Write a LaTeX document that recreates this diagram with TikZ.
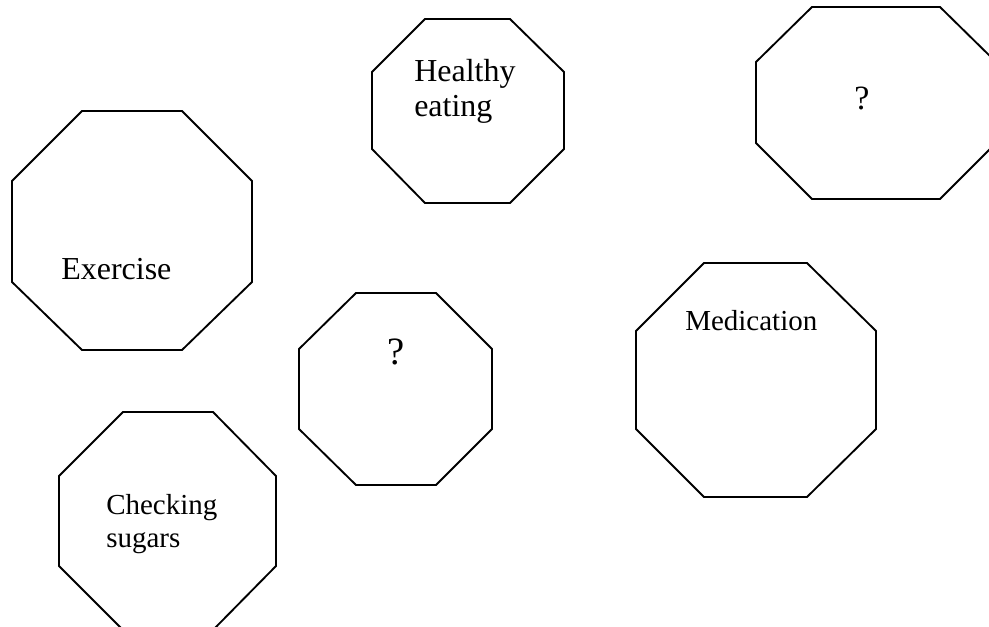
\documentclass[tikz,border=0pt]{standalone}
\usepackage{fontspec}
\setmainfont{Liberation Serif}
\usepackage{tikz}

\begin{document}
\begin{tikzpicture}[x=0.75pt, y=-0.75pt,
        octa/.style={line width=1.4pt, line join=miter},
        lbl/.style={anchor=base west, inner sep=0pt, align=left},
        qmark/.style={anchor=base, inner sep=0pt}]
                        \clip (0, 0) rectangle (989, 627);
                        \draw[octa]
                        (425, 19) -- (510, 19) -- (564, 72) -- (564, 149) -- (510, 203) -- (425, 203) -- (372, 149) -- (372, 72) -- cycle
                        (812, 7) -- (940, 7) -- (996, 62) -- (996, 143) -- (940, 199) -- (812, 199) -- (756, 143) -- (756, 62) -- cycle
                        (82, 111) -- (182, 111) -- (252, 181) -- (252, 282) -- (182, 350) -- (82, 350) -- (12, 282) -- (12, 181) -- cycle
                        (356, 293) -- (436, 293) -- (492, 349) -- (492, 429) -- (436, 485) -- (356, 485) -- (299, 429) -- (299, 349) -- cycle
                        (704, 263) -- (807, 263) -- (876, 331) -- (876, 429) -- (807, 497) -- (704, 497) -- (636, 429) -- (636, 331) -- cycle
                        (123, 412) -- (213, 412) -- (276, 476) -- (276, 566) -- (213, 630) -- (123, 630) -- (59, 566) -- (59, 476) -- cycle;
                        \node[lbl, font=\fontsize{24}{26.5}\selectfont] (healthy) at (414, 117) {Healthy\\eating};
                        \node[qmark, font=\fontsize{25.5}{30}\selectfont] (qtop) at (862, 110) {?};
                        \node[lbl, font=\fontsize{24}{28}\selectfont] (exercise) at (61, 280) {Exercise};
                        \node[qmark, font=\fontsize{29}{34}\selectfont] (qmid) at (396, 364) {?};
                        \node[lbl, font=\fontsize{21.75}{25}\selectfont] (medication) at (685, 330) {Medication};
                        \node[lbl, font=\fontsize{21.75}{24.75}\selectfont] (checking) at (106, 547) {Checking\\sugars};
                    \end{tikzpicture}
\end{document}
